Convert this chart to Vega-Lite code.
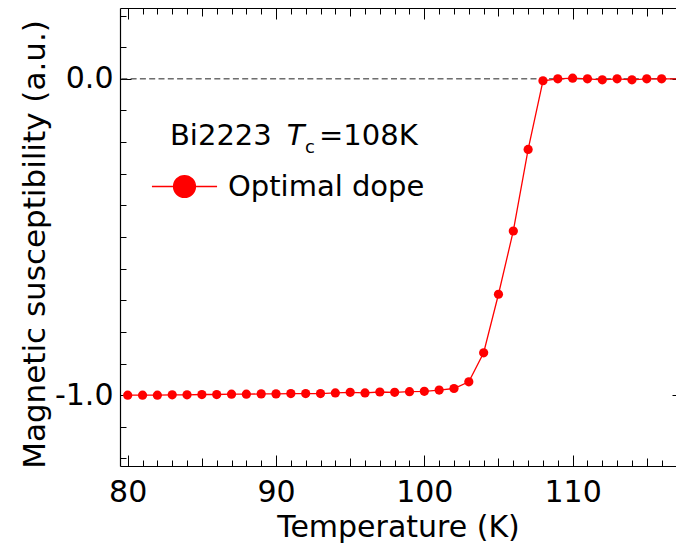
{
  "$schema": "https://vega.github.io/schema/vega-lite/v6.json",
  "width": 556,
  "height": 458,
  "autosize": "none",
  "padding": {"left": 120, "top": 8, "right": 0, "bottom": 80},
  "background": "white",
  "config": {
    "view": {"stroke": null},
    "font": "DejaVu Sans",
    "axis": {
      "grid": false,
      "domainColor": "black",
      "domainWidth": 1.2,
      "tickColor": "black",
      "tickWidth": 1,
      "labelColor": "black",
      "titleColor": "black",
      "labelFont": "DejaVu Sans",
      "titleFont": "DejaVu Sans",
      "titleFontWeight": "normal"
    },
    "text": {"font": "DejaVu Sans"}
  },
  "datasets": {
    "chi": [
      {"T": 80, "chi": -1.000, "sample": "Optimal dope"},
      {"T": 81, "chi": -1.000, "sample": "Optimal dope"},
      {"T": 82, "chi": -1.000, "sample": "Optimal dope"},
      {"T": 83, "chi": -0.999, "sample": "Optimal dope"},
      {"T": 84, "chi": -0.999, "sample": "Optimal dope"},
      {"T": 85, "chi": -0.998, "sample": "Optimal dope"},
      {"T": 86, "chi": -0.998, "sample": "Optimal dope"},
      {"T": 87, "chi": -0.997, "sample": "Optimal dope"},
      {"T": 88, "chi": -0.997, "sample": "Optimal dope"},
      {"T": 89, "chi": -0.996, "sample": "Optimal dope"},
      {"T": 90, "chi": -0.996, "sample": "Optimal dope"},
      {"T": 91, "chi": -0.995, "sample": "Optimal dope"},
      {"T": 92, "chi": -0.995, "sample": "Optimal dope"},
      {"T": 93, "chi": -0.995, "sample": "Optimal dope"},
      {"T": 94, "chi": -0.993, "sample": "Optimal dope"},
      {"T": 95, "chi": -0.991, "sample": "Optimal dope"},
      {"T": 96, "chi": -0.993, "sample": "Optimal dope"},
      {"T": 97, "chi": -0.990, "sample": "Optimal dope"},
      {"T": 98, "chi": -0.991, "sample": "Optimal dope"},
      {"T": 99, "chi": -0.989, "sample": "Optimal dope"},
      {"T": 100, "chi": -0.988, "sample": "Optimal dope"},
      {"T": 101, "chi": -0.984, "sample": "Optimal dope"},
      {"T": 102, "chi": -0.979, "sample": "Optimal dope"},
      {"T": 103, "chi": -0.958, "sample": "Optimal dope"},
      {"T": 104, "chi": -0.866, "sample": "Optimal dope"},
      {"T": 105, "chi": -0.681, "sample": "Optimal dope"},
      {"T": 106, "chi": -0.481, "sample": "Optimal dope"},
      {"T": 107, "chi": -0.223, "sample": "Optimal dope"},
      {"T": 108, "chi": -0.006, "sample": "Optimal dope"},
      {"T": 109, "chi": 0.000, "sample": "Optimal dope"},
      {"T": 110, "chi": 0.002, "sample": "Optimal dope"},
      {"T": 111, "chi": 0.000, "sample": "Optimal dope"},
      {"T": 112, "chi": -0.003, "sample": "Optimal dope"},
      {"T": 113, "chi": 0.000, "sample": "Optimal dope"},
      {"T": 114, "chi": -0.003, "sample": "Optimal dope"},
      {"T": 115, "chi": 0.000, "sample": "Optimal dope"},
      {"T": 116, "chi": 0.000, "sample": "Optimal dope"},
      {"T": 117.5, "chi": 0.000, "sample": "Optimal dope"}
    ]
  },
  "data": {"name": "chi"},
  "resolve": {"axis": {"x": "independent", "y": "independent"}},
  "layer": [
    {
      "data": {"values": [{}]},
      "mark": {"type": "rule", "color": "#222222", "strokeWidth": 1, "strokeDash": [6, 3.3]},
      "encoding": {
        "y": {"datum": 0, "type": "quantitative", "axis": null}
      }
    },
    {
      "mark": {"type": "line", "strokeWidth": 1.3, "clip": true},
      "encoding": {
        "x": {
          "field": "T",
          "type": "quantitative",
          "scale": {"domain": [79.48, 116.97], "nice": false, "zero": false},
          "axis": {
            "orient": "bottom",
            "values": [80,81,82,83,84,85,86,87,88,89,90,91,92,93,94,95,96,97,98,99,100,101,102,103,104,105,106,107,108,109,110,111,112,113,114,115,116],
            "tickSize": -6,
            "labelExpr": "datum.value % 10 === 0 ? datum.label : ''",
            "labelFontSize": 30,
            "labelBaseline": "alphabetic",
            "labelPadding": 41.5,
            "labelOverlap": false,
            "labelFlush": false,
            "labelBound": false,
            "title": "Temperature (K)",
            "titleFontSize": 30,
            "titleBaseline": "alphabetic",
            "titleY": 70
          }
        },
        "y": {
          "field": "chi",
          "type": "quantitative",
          "scale": {"domain": [-1.224, 0.224], "nice": false, "zero": false},
          "axis": {
            "orient": "left",
            "values": [-1.2,-1.1,-1.0,-0.9,-0.8,-0.7,-0.6,-0.5,-0.4,-0.3,-0.2,-0.1,0,0.1,0.2],
            "tickSize": -6,
            "labelExpr": "abs(datum.value) < 0.001 ? '0.0' : (abs(datum.value + 1) < 0.001 ? '-1.0' : '')",
            "labelFontSize": 30,
            "labelPadding": 13,
            "labelOverlap": false,
            "labelFlush": false,
            "labelBound": false,
            "title": "Magnetic susceptibility (a.u.)",
            "titleFontSize": 31,
            "titleAngle": 270,
            "titleBaseline": "alphabetic",
            "titleAlign": "center",
            "titleX": -76,
            "titleY": 236
          }
        },
        "color": {
          "field": "sample",
          "type": "nominal",
          "scale": {"domain": ["Optimal dope"], "range": ["#ff0000"]},
          "legend": {
            "orient": "none",
            "legendX": 42,
            "legendY": 156,
            "title": null,
            "padding": 0,
            "symbolType": "M-1.5,0L1.5,0M0.5,0A0.5,0.5,0,1,1,-0.5,0A0.5,0.5,0,1,1,0.5,0Z",
            "symbolSize": 1884,
            "symbolStrokeWidth": 1.5,
            "symbolFillColor": "#ff0000",
            "symbolStrokeColor": "#ff0000",
            "labelFont": "DejaVu Sans",
            "labelFontSize": 29,
            "labelColor": "black",
            "labelOffset": 21,
            "labelLimit": 400
          }
        }
      }
    },
    {
      "mark": {"type": "point", "filled": true, "opacity": 1, "size": 85, "clip": true},
      "encoding": {
        "x": {
          "field": "T",
          "type": "quantitative",
          "axis": {"orient": "bottom", "values": [80, 90, 100, 110], "tickSize": -11, "domain": false, "labels": false, "title": null}
        },
        "y": {
          "field": "chi",
          "type": "quantitative",
          "axis": {"orient": "left", "values": [-1, 0], "tickSize": -11, "domain": false, "labels": false, "title": null}
        },
        "color": {"field": "sample", "type": "nominal"}
      }
    },
    {
      "data": {"values": [{}]},
      "mark": {"type": "text", "align": "left", "baseline": "alphabetic", "fontSize": 29, "color": "black"},
      "encoding": {
        "x": {
          "datum": 82.85,
          "type": "quantitative",
          "axis": {"orient": "bottom", "values": [85, 95, 105, 115], "tickSize": -8, "domain": false, "labels": false, "title": null}
        },
        "y": {
          "datum": -0.209,
          "type": "quantitative",
          "axis": {"orient": "right", "values": [-1, 0], "tickSize": -4, "domain": false, "labels": false, "title": null}
        },
        "text": {"value": "Bi2223"}
      }
    },
    {
      "data": {"values": [{}]},
      "mark": {"type": "text", "align": "left", "baseline": "alphabetic", "fontSize": 29, "fontStyle": "italic", "color": "black"},
      "encoding": {
        "x": {
          "datum": 90.72,
          "type": "quantitative",
          "axis": {
            "orient": "top",
            "values": [80,81,82,83,84,85,86,87,88,89,90,91,92,93,94,95,96,97,98,99,100,101,102,103,104,105,106,107,108,109,110,111,112,113,114,115,116],
            "tickSize": -6, "labels": false, "title": null
          }
        },
        "y": {"datum": -0.209, "type": "quantitative", "axis": null},
        "text": {"value": "T"}
      }
    },
    {
      "data": {"values": [{}]},
      "mark": {"type": "text", "align": "left", "baseline": "alphabetic", "fontSize": 18, "color": "black"},
      "encoding": {
        "x": {
          "datum": 91.96,
          "type": "quantitative",
          "axis": {"orient": "top", "values": [80, 90, 100, 110], "tickSize": -11, "domain": false, "labels": false, "title": null}
        },
        "y": {"datum": -0.233, "type": "quantitative", "axis": null},
        "text": {"value": "c"}
      }
    },
    {
      "data": {"values": [{}]},
      "mark": {"type": "text", "align": "left", "baseline": "alphabetic", "fontSize": 29, "color": "black"},
      "encoding": {
        "x": {
          "datum": 92.9,
          "type": "quantitative",
          "axis": {"orient": "top", "values": [85, 95, 105, 115], "tickSize": -8, "domain": false, "labels": false, "title": null}
        },
        "y": {"datum": -0.209, "type": "quantitative", "axis": null},
        "text": {"value": "=108K"}
      }
    }
  ]
}
